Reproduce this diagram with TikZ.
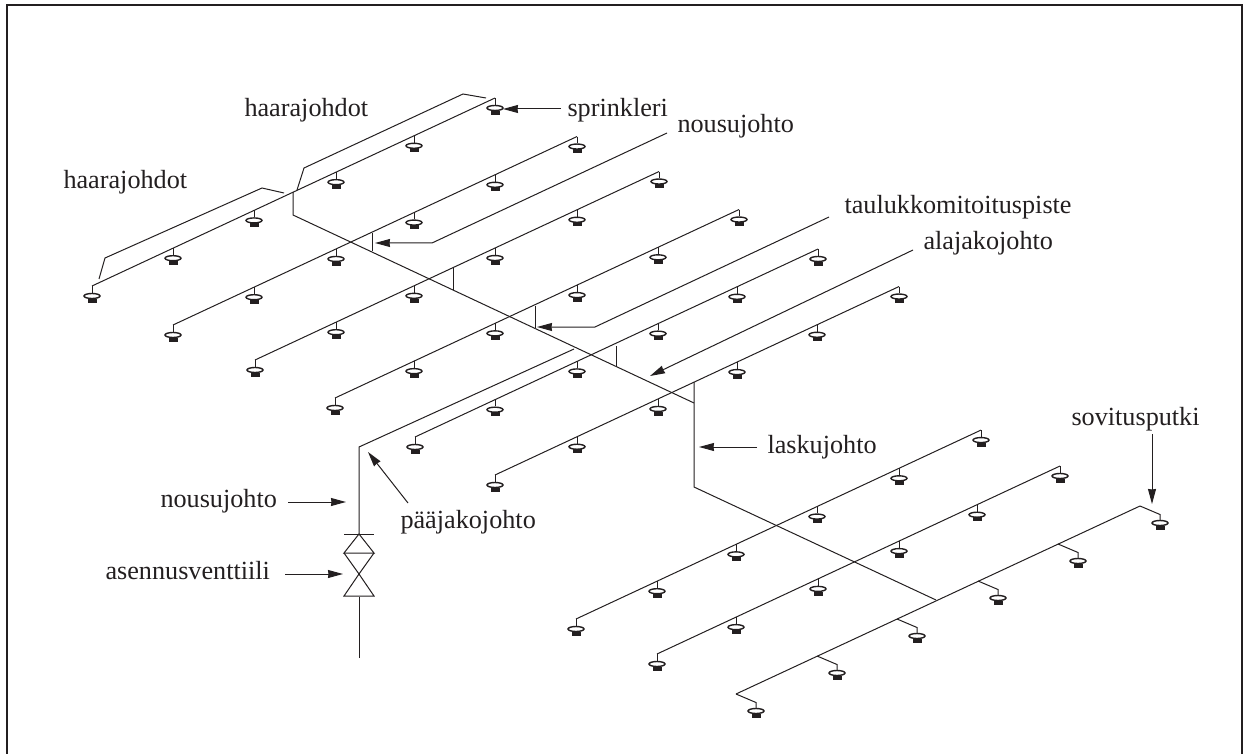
\documentclass[tikz,border=0pt]{standalone}
\usepackage{fontspec}
\setmainfont{Liberation Serif}
\usepackage{xcolor}
\usetikzlibrary{arrows.meta,shapes.geometric}
\definecolor{ink}{RGB}{35,31,32}

\begin{document}
\begin{tikzpicture}[x=1pt,y=-1pt,>={Stealth[length=15pt,width=8pt,inset=0.5pt]},
		line width=1pt,color=ink,
		head node/.style={ellipse,draw,fill=white,line width=1.4pt,inner sep=0pt,minimum width=16pt,minimum height=5pt,
			label={[pad node]below:}},
		pad node/.style={rectangle,fill=ink,inner sep=0pt,minimum width=9pt,minimum height=4pt,yshift=1pt},
		text node/.style={anchor=base west,inner sep=0pt,font=\fontsize{26.2}{30}\selectfont,text=ink},
		frame line/.style={line width=2.5pt}]
	\useasboundingbox (0,0) rectangle (1243,754);

	% Frame
	\coordinate (F1) at (7,754);
	\coordinate (F2) at (7,5);
	\coordinate (F3) at (1242,5);
	\coordinate (F4) at (1242,754);
	\draw[frame line] (F1) -- (F2) -- (F3) -- (F4);

	% Branch lines with straight drops
	\foreach \r/\sx/\sy/\xs in {a/92/286/{92,173,254,336,414,495},
			b/173/325/{173,254,336,414,495,577},
			c/255/360/{255,336,414,495,577,659},
			d/335/398/{335,414,495,577,658,739},
			e/415/437/{415,495,577,658,737,818},
			f/495/475/{495,577,658,737,817,899},
			g/576/619/{576,657,736,817,899,981},
			h/657/654/{657,736,818,899,977,1060}} {
		\foreach \x [count=\i] in \xs {
			\coordinate (\r\i) at (\x,{\sy-.4665*(\x-\sx)});
			\node[head node] (\r\i h) at (\x,{\sy-.4665*(\x-\sx)+10}) {};
			\draw (\r\i) -- (\r\i h.north);
		}
		\draw (\r1) -- (\r6);
	}

	% Last branch line with offset drops
	\foreach \x/\y [count=\i] in {736/694,817/656,897/619,978/581,1058/544,1140/506} {
		\coordinate (k\i) at (\x,\y);
		\coordinate (k\i m) at (\x+20,\y+8.5);
		\node[head node] (k\i h) at (\x+20,\y+17) {};
		\draw (k\i) -- (k\i m) -- (k\i h.north);
	}
	\draw (k1) -- (k6);

	% Mains
	\coordinate (M1) at (359,658);
	\coordinate (M2) at (359,597);
	\coordinate (M3) at (359,534);
	\coordinate (M4) at (359,447);
	\coordinate (M5) at (574,349);
	\coordinate (S1) at (293,192);
	\coordinate (S2) at (293,215);
	\coordinate (S3) at (694,403);
	\coordinate (S4) at (694,382);
	\coordinate (S5) at (694,487);
	\coordinate (S6) at (936,600);
	\draw (M1) -- (M2);
	\draw (M3) -- (M4) -- (M5);
	\draw (S1) -- (S2) -- (S3);
	\draw (S4) -- (S5) -- (S6);

	% Risers
	\coordinate (R1) at (372,233);
	\coordinate (R2) at (372,251);
	\coordinate (R3) at (453,268);
	\coordinate (R4) at (453,290);
	\coordinate (R5) at (535,306);
	\coordinate (R6) at (535,328);
	\coordinate (R7) at (616,346);
	\coordinate (R8) at (616,366);
	\draw (R1) -- (R2);
	\draw (R3) -- (R4);
	\draw (R5) -- (R6);
	\draw (R7) -- (R8);

	% Valve
	\coordinate (V1) at (344,534);
	\coordinate (V2) at (374,534);
	\coordinate (V3) at (344,553);
	\coordinate (V4) at (374,553);
	\coordinate (V5) at (359,574);
	\coordinate (V6) at (344,596);
	\coordinate (V7) at (374,596);
	\draw (V1) -- (V2);
	\draw (M3) -- (V3) -- (V4) -- cycle;
	\draw (V3) -- (V5) -- (V4);
	\draw (V5) -- (V6) -- (V7) -- cycle;

	% Labels
	\node[text node] (T1) at (244,117) {haarajohdot};
	\node[text node] (T2) at (63,189) {haarajohdot};
	\node[text node] (T3) at (567,117) {sprinkleri};
	\node[text node] (T4) at (677,133) {nousujohto};
	\node[text node] (T5) at (844,214) {taulukkomitoituspiste};
	\node[text node] (T6) at (923,250) {alajakojohto};
	\node[text node] (T7) at (1071,425) {sovitusputki};
	\node[text node] (T8) at (767,453) {laskujohto};
	\node[text node] (T9) at (160,507) {nousujohto};
	\node[text node] (T10) at (400,528) {pääjakojohto};
	\node[text node] (T11) at (105,579) {asennusventtiili};

	% Leaders
	\coordinate (L1) at (297,190);
	\coordinate (L2) at (304,168);
	\coordinate (L3) at (463,94);
	\coordinate (L4) at (486,98);
	\coordinate (L5) at (284,193);
	\coordinate (L6) at (262,188);
	\coordinate (L7) at (105,258);
	\coordinate (L8) at (99,279);
	\draw (L1) -- (L2) -- (L3) -- (L4);
	\draw (L5) -- (L6) -- (L7) -- (L8);

	% Arrows
	\coordinate (A1) at (561,109);
	\coordinate (A2) at (503,109);
	\coordinate (A3) at (667,133);
	\coordinate (A4) at (432,243);
	\coordinate (A5) at (375,243);
	\coordinate (A6) at (829,217);
	\coordinate (A7) at (595,327);
	\coordinate (A8) at (537,327);
	\coordinate (A9) at (913,250);
	\coordinate (A10) at (650,376);
	\coordinate (A11) at (757,447);
	\coordinate (A12) at (699,447);
	\coordinate (A13) at (1152,434);
	\coordinate (A14) at (1152,504);
	\coordinate (A15) at (288,502);
	\coordinate (A16) at (346,502);
	\coordinate (A17) at (285,574);
	\coordinate (A18) at (343,574);
	\coordinate (A19) at (408,503);
	\coordinate (A20) at (368,452);
	\draw[->] (A1) -- (A2);
	\draw[->] (A3) -- (A4) -- (A5);
	\draw[->] (A6) -- (A7) -- (A8);
	\draw[->] (A9) -- (A10);
	\draw[->] (A11) -- (A12);
	\draw[->] (A13) -- (A14);
	\draw[->] (A15) -- (A16);
	\draw[->] (A17) -- (A18);
	\draw[->] (A19) -- (A20);
\end{tikzpicture}
\end{document}
